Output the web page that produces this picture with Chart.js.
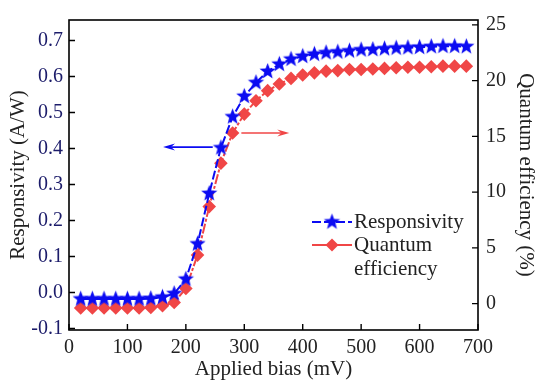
<!DOCTYPE html>
<html>
<head>
<meta charset="utf-8">
<script src="https://cdn.jsdelivr.net/npm/chart.js@4/dist/chart.umd.min.js"></script>
<style>
html,body{margin:0;padding:0;background:#fff;}
#wrap{width:536px;height:381px;}
</style>
</head>
<body>
<div id="wrap"><canvas id="c" width="536" height="381"></canvas></div>
<script>
const biasMV = [20,40,60,80,100,120,140,160,180,200,220,240,260,280,300,320,340,360,380,400,420,440,460,480,500,520,540,560,580,600,620,640,660,680];
const responsivity = [-0.018,-0.018,-0.018,-0.018,-0.018,-0.018,-0.017,-0.013,-0.003,0.037,0.135,0.275,0.402,0.488,0.545,0.583,0.614,0.634,0.648,0.656,0.662,0.666,0.668,0.671,0.674,0.675,0.677,0.679,0.680,0.681,0.683,0.684,0.684,0.683];
const quantumEff = [-0.4,-0.4,-0.4,-0.4,-0.4,-0.4,-0.35,-0.2,0.1,1.35,4.35,8.7,12.6,15.3,17.0,18.2,19.1,19.7,20.2,20.5,20.7,20.85,20.9,21.0,21.0,21.05,21.1,21.15,21.2,21.2,21.25,21.3,21.3,21.3];
const xTicks = [0,100,200,300,400,500,600,700];
const leftTicks = [-0.1,0.0,0.1,0.2,0.3,0.4,0.5,0.6,0.7];
const rightTicks = [0,5,10,15,20,25];

const BLUE = '#0b0bf2';
const RED = '#f04646';
const NAVY = '#1c1c6a';
const FONT = "'Liberation Serif','DejaVu Serif',serif";

function makeStar(r, color){
  const c = document.createElement('canvas');
  const s = Math.ceil(r*2)+2;
  c.width = s; c.height = s;
  const g = c.getContext('2d');
  const cx = s/2, cy = s/2, ri = r*0.42;
  g.beginPath();
  for(let i=0;i<10;i++){
    const a = -Math.PI/2 + i*Math.PI/5;
    const rr = i%2===0 ? r : ri;
    const px = cx + rr*Math.cos(a), py = cy + rr*Math.sin(a);
    if(i===0) g.moveTo(px,py); else g.lineTo(px,py);
  }
  g.closePath();
  g.fillStyle = color; g.fill();
  return c;
}
const starImg = makeStar(8.5, BLUE);

const toXY = (xs, ys) => xs.map((x,i)=>({x:x, y:ys[i]}));

const decor = {
  id:'decor',
  afterDraw(chart){
    const ctx = chart.ctx;
    const a = chart.chartArea;
    const xs = chart.scales.x, yl = chart.scales.y, yr = chart.scales.y2;
    ctx.save();
    ctx.strokeStyle = '#000'; ctx.lineWidth = 1.6;
    ctx.strokeRect(a.left, a.top, a.right-a.left, a.bottom-a.top);
    ctx.lineWidth = 1.4;
    ctx.beginPath();
    leftTicks.forEach(v=>{const y=yl.getPixelForValue(v); ctx.moveTo(a.left,y); ctx.lineTo(a.left+6,y);});
    rightTicks.forEach(v=>{const y=yr.getPixelForValue(v); ctx.moveTo(a.right,y); ctx.lineTo(a.right-6,y);});
    xTicks.forEach(v=>{const x=xs.getPixelForValue(v); ctx.moveTo(x,a.bottom); ctx.lineTo(x,a.bottom-6);});
    ctx.stroke();
    function arrow(x1,y1,x2,y2,color){
      ctx.strokeStyle=color; ctx.fillStyle=color; ctx.lineWidth=1.6;
      const dir = Math.sign(x2-x1);
      ctx.beginPath(); ctx.moveTo(x1,y1); ctx.lineTo(x2-dir*8,y2); ctx.stroke();
      ctx.beginPath(); ctx.moveTo(x2,y2); ctx.lineTo(x2-dir*12,y2-3.5); ctx.lineTo(x2-dir*8,y2); ctx.lineTo(x2-dir*12,y2+3.5); ctx.closePath(); ctx.fill();
    }
    const by = yl.getPixelForValue(0.404);
    arrow(xs.getPixelForValue(246), by, xs.getPixelForValue(161), by, BLUE);
    const ry = yr.getPixelForValue(15.3);
    arrow(xs.getPixelForValue(295), ry, xs.getPixelForValue(377), ry, RED);
    const lx = a.left + 243, tx = a.left + 285;
    const l1 = a.top + 202, l2 = a.top + 225, l3 = a.top + 249;
    ctx.font = "21px " + FONT; ctx.textBaseline='middle'; ctx.textAlign='left';
    ctx.lineWidth = 2;
    ctx.strokeStyle = BLUE; ctx.setLineDash([9,3]);
    ctx.beginPath(); ctx.moveTo(lx,l1); ctx.lineTo(lx+40,l1); ctx.stroke();
    ctx.setLineDash([]);
    ctx.drawImage(starImg, lx+20-starImg.width/2, l1-starImg.height/2);
    ctx.strokeStyle = RED;
    ctx.beginPath(); ctx.moveTo(lx,l2); ctx.lineTo(lx+40,l2); ctx.stroke();
    ctx.fillStyle = RED;
    ctx.beginPath(); ctx.moveTo(lx+20,l2-6.5); ctx.lineTo(lx+26.5,l2); ctx.lineTo(lx+20,l2+6.5); ctx.lineTo(lx+13.5,l2); ctx.closePath(); ctx.fill();
    ctx.fillStyle = '#222';
    ctx.fillText('Responsivity', tx, l1);
    ctx.fillText('Quantum', tx, l2);
    ctx.fillText('efficiency', tx, l3);
    ctx.restore();
  }
};

new Chart(document.getElementById('c'), {
  type:'line',
  data:{
    datasets:[
      {
        label:'Quantum efficiency',
        data: toXY(biasMV, quantumEff),
        yAxisID:'y2',
        borderColor: RED, backgroundColor: RED,
        borderWidth: 2, borderDash:[10,2,3,2],
        pointStyle:'rectRot', pointRadius:6.8, pointBorderWidth:0,
        tension:0, order:2
      },
      {
        label:'Responsivity',
        data: toXY(biasMV, responsivity),
        yAxisID:'y',
        borderColor: BLUE, backgroundColor: BLUE,
        borderWidth: 2, borderDash:[9,3],
        pointStyle: starImg, pointRadius:8,
        tension:0, order:1
      }
    ]
  },
  options:{
    responsive:false, animation:false,
    layout:{padding:{top:13,left:0,right:0,bottom:0}},
    plugins:{legend:{display:false}, tooltip:{enabled:false}},
    scales:{
      x:{
        type:'linear', min:0, max:700,
        afterBuildTicks(s){ s.ticks = xTicks.map(v=>({value:v})); },
        afterFit(s){ s.height = 51; },
        grid:{display:false, drawTicks:false},
        border:{display:false},
        ticks:{padding:6, color:'#222', font:{family:FONT,size:20}, maxRotation:0, autoSkip:false},
        title:{display:true, text:'Applied bias (mV)', color:'#222', font:{family:FONT,size:21, lineHeight:1}, padding:{top:0,bottom:1}}
      },
      y:{
        position:'left', min:-0.104, max:0.757,
        afterBuildTicks(s){ s.ticks = leftTicks.map(v=>({value:v})); },
        afterFit(s){ s.width = 69; },
        grid:{display:false, drawTicks:false},
        border:{display:false},
        ticks:{padding:6, color:NAVY, font:{family:FONT,size:20}, autoSkip:false, callback:(v)=>v.toFixed(1)},
        title:{display:true, text:'Responsivity (A/W)', color:'#222', font:{family:FONT,size:21, lineHeight:1}, padding:{top:8,bottom:0}}
      },
      y2:{
        position:'right', min:-2.37, max:25.44,
        afterBuildTicks(s){ s.ticks = rightTicks.map(v=>({value:v})); },
        afterFit(s){ s.width = 58; },
        grid:{display:false, drawTicks:false},
        border:{display:false},
        ticks:{padding:8, color:'#222', font:{family:FONT,size:20}, autoSkip:false},
        title:{display:true, text:'Quantum efficiency (%)', color:'#222', font:{family:FONT,size:21, lineHeight:1}, padding:{top:0,bottom:0}}
      }
    }
  },
  plugins:[decor]
});
</script>
</body>
</html>
